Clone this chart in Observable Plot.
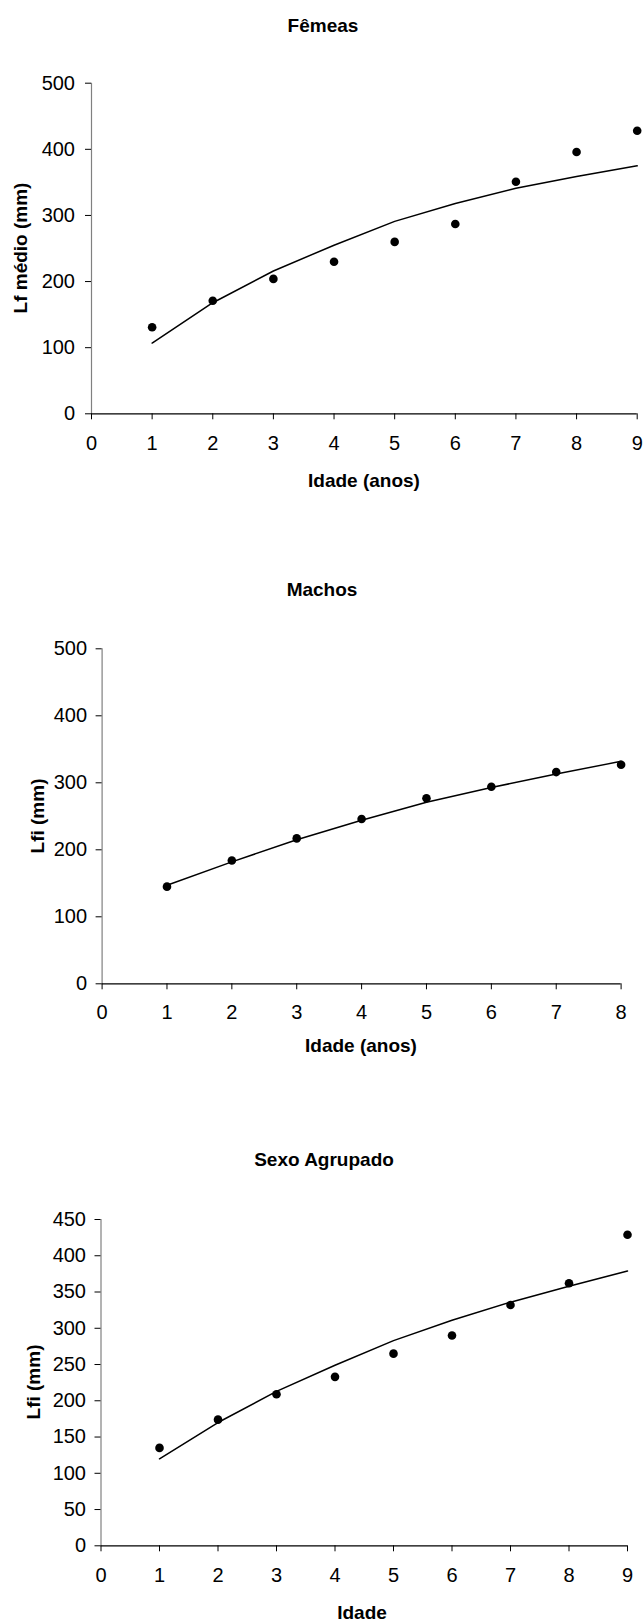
<!DOCTYPE html>
<html>
<head>
<meta charset="utf-8">
<script src="https://cdn.jsdelivr.net/npm/d3@7"></script>
<script src="https://cdn.jsdelivr.net/npm/@observablehq/plot@0.6"></script>
<style>
  html, body { margin: 0; padding: 0; background: #fff; }
  #root { position: relative; width: 644px; height: 1623px; overflow: hidden;
          font-family: "Liberation Sans", Arial, sans-serif; }
  #root > svg { position: absolute; left: 0; }
</style>
</head>
<body>
<div id="root"></div>
<script>
// ---------- data ----------
const femeasAges = [1, 2, 3, 4, 5, 6, 7, 8, 9];
const femeasObs  = [131, 171, 204, 230, 260, 287, 351, 396, 428];
const femeasFit  = [107, 168, 216, 255, 291, 318, 341, 359, 375];

const machosAges = [1, 2, 3, 4, 5, 6, 7, 8];
const machosObs  = [145, 184, 217, 246, 277, 294, 316, 327];
const machosFit  = [147, 182, 215, 244, 271, 293, 313, 332];

const agrupAges = [1, 2, 3, 4, 5, 6, 7, 8, 9];
const agrupObs  = [135, 174, 209, 233, 265, 290, 332, 362, 429];
const agrupFit  = [120, 170, 213, 249, 283, 311, 336, 358, 379];

const titles = ["Fêmeas", "Machos", "Sexo Agrupado"];
const xLabels = ["Idade (anos)", "Idade (anos)", "Idade"];
const yLabels = ["Lf médio (mm)", "Lfi (mm)", "Lfi (mm)"];

const FONT = "Liberation Sans, Arial, sans-serif";
const TICK_FS = 20;
const root = document.getElementById("root");

function panel(cfg) {
  const pts = cfg.ages.map((a, i) => ({age: a, v: cfg.obs[i]}));
  const fitPts = cfg.ages.map((a, i) => ({age: a, v: cfg.fit[i]}));
  const svg = Plot.plot({
    width: 644,
    height: cfg.height,
    marginLeft: cfg.ml, marginRight: cfg.mr, marginTop: cfg.mt, marginBottom: cfg.mb,
    style: {fontFamily: FONT, fontSize: TICK_FS + "px", color: "#000", background: "transparent", overflow: "visible"},
    x: {domain: [0, cfg.xMax]},
    y: {domain: [0, cfg.yMax]},
    marks: [
      Plot.ruleX([0], {stroke: "#808080", strokeWidth: 1.2}),
      Plot.ruleY([0], {stroke: "#000", strokeWidth: 1.2}),
      Plot.axisX({ticks: d3.range(0, cfg.xMax + 1), tickSize: 6, tickPadding: cfg.xPad,
                  tickFormat: d => String(d), label: null, fontSize: TICK_FS, stroke: "#000", fill: "#000"}),
      Plot.axisY({ticks: d3.range(0, cfg.yMax + 1, cfg.yStep), tickSize: 6, tickPadding: cfg.yPad,
                  tickFormat: d => String(d), label: null, fontSize: TICK_FS, stroke: "#000", fill: "#000"}),
      Plot.line(fitPts, {x: "age", y: "v", stroke: "#000", strokeWidth: 1.5}),
      Plot.dot(pts, {x: "age", y: "v", r: 4.3, fill: "#000", stroke: "none"})
    ]
  });
  svg.style.top = cfg.top + "px";
  root.appendChild(svg);
}

panel({ages: femeasAges, obs: femeasObs, fit: femeasFit, xMax: 9, yMax: 500, yStep: 100,
       top: 0, height: 500, ml: 91, mr: 7.3, mt: 82.7, mb: 86.7, xPad: 16, yPad: 10.5});
panel({ages: machosAges, obs: machosObs, fit: machosFit, xMax: 8, yMax: 500, yStep: 100,
       top: 540, height: 540, ml: 101.6, mr: 23.4, mt: 108.3, mb: 96.7, xPad: 14.5, yPad: 9});
panel({ages: agrupAges, obs: agrupObs, fit: agrupFit, xMax: 9, yMax: 450, yStep: 50,
       top: 1100, height: 523, ml: 100.5, mr: 17, mt: 119, mb: 77.7, xPad: 16, yPad: 9});

// ---------- titles and axis titles ----------
const overlay = d3.select(root).append("svg")
  .attr("width", 644).attr("height", 1623)
  .style("top", "0px").style("pointer-events", "none")
  .style("font-family", FONT);

const titlePos = [[323, 31.7], [322, 595.7], [324, 1166]];
const xLabPos = [[364, 486.5], [361, 1051.5], [362, 1619]];
const yLabPos = [[27, 248], [43.5, 816], [39.5, 1382]];

titles.forEach((t, i) => {
  overlay.append("text").attr("x", titlePos[i][0]).attr("y", titlePos[i][1])
    .attr("text-anchor", "middle").attr("font-weight", "bold").attr("font-size", 19).text(t);
  overlay.append("text").attr("x", xLabPos[i][0]).attr("y", xLabPos[i][1])
    .attr("text-anchor", "middle").attr("font-weight", "bold").attr("font-size", 19).text(xLabels[i]);
  overlay.append("text")
    .attr("transform", `translate(${yLabPos[i][0]},${yLabPos[i][1]}) rotate(-90)`)
    .attr("text-anchor", "middle").attr("font-weight", "bold").attr("font-size", 19).text(yLabels[i]);
});
</script>
</body>
</html>
